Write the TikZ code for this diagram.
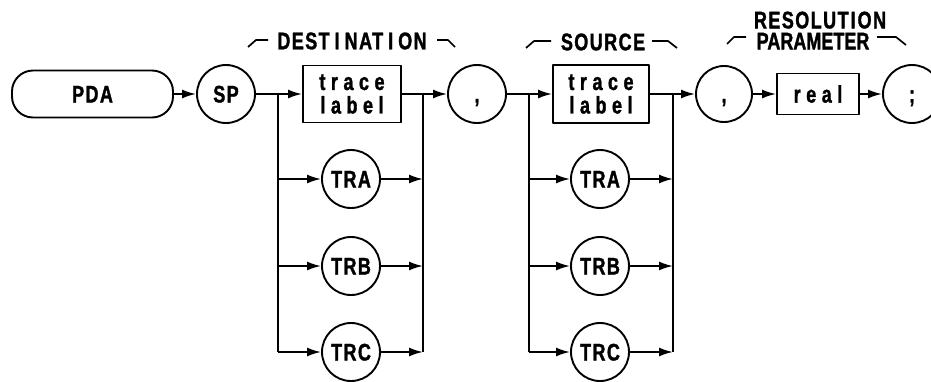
\documentclass[tikz,border=0pt]{standalone}
\usepackage{fontspec}
\setmainfont{Liberation Sans}
\newfontfamily\capf[FakeStretch=0.75,LetterSpace=6,FakeBold=1.4]{Liberation Sans}
\newfontfamily\parf[FakeStretch=0.75,FakeBold=1.4]{Liberation Sans}
\newfontfamily\lowf[FakeStretch=0.75,LetterSpace=23,FakeBold=1.4]{Liberation Sans}
\usetikzlibrary{arrows.meta}
\begin{document}
\begin{tikzpicture}[x=1pt,y=-1pt,line width=1.9pt,line join=round,
  arr/.style={-{Latex[length=14pt,width=9pt]}},
  hook/.style={line width=1.7pt},
  capt/.style={inner sep=0pt,font=\capf\bfseries\fontsize{24}{24}\selectfont},
  circ/.style={circle,draw,minimum size=58pt,inner sep=0pt,
    font=\capf\bfseries\fontsize{24}{24}\selectfont,text height=17pt,text depth=0pt},
  tbox/.style={rectangle,draw,inner sep=0pt,align=center,
    font=\lowf\bfseries\fontsize{24}{23.5}\selectfont},
  pill/.style={rectangle,draw,rounded corners=21pt,minimum width=161pt,minimum height=47pt,
    inner sep=0pt,font=\capf\bfseries\fontsize{24}{24}\selectfont,text height=17pt,text depth=0pt}]
\useasboundingbox (0,0) rectangle (931,381);
\clip (0,0) rectangle (931,381);
% main row
\node[pill] (pda) at (92.5,94) {PDA};
\node[circ] (sp) at (226,94) {SP};
\node[tbox,minimum width=98pt,minimum height=57pt] (dbox) at (352,94) {trace\\label};
\node[circ] (c1) at (477,94) {,};
\node[tbox,minimum width=96pt,minimum height=58pt] (sbox) at (601,94) {trace\\label};
\node[circ,minimum size=56pt] (c2) at (724,94) {,};
\node[tbox,minimum width=82pt,minimum height=41pt] (real) at (818,94) {real};
\node[circ] (semi) at (912,94) {;};
% destination alternatives
\node[circ] (dtra) at (351,179) {TRA};
\node[circ] (dtrb) at (351,266) {TRB};
\node[circ] (dtrc) at (351,352) {TRC};
\node[circ] (stra) at (600,179) {TRA};
\node[circ] (strb) at (600,266) {TRB};
\node[circ] (strc) at (600,352) {TRC};
% branch coordinates
\coordinate (db0) at (278,94);
\coordinate (db1) at (278,179);
\coordinate (db2) at (278,266);
\coordinate (db3) at (278,352);
\coordinate (dm0) at (423,94);
\coordinate (dm1) at (423,179);
\coordinate (dm2) at (423,266);
\coordinate (dm3) at (423,352);
\coordinate (sb0) at (529,94);
\coordinate (sb1) at (529,179);
\coordinate (sb2) at (529,266);
\coordinate (sb3) at (529,352);
\coordinate (sm0) at (673,94);
\coordinate (sm1) at (673,179);
\coordinate (sm2) at (673,266);
\coordinate (sm3) at (673,352);
% main connectors
\draw[arr] (pda) -- (sp);
\draw[arr] (sp) -- (dbox);
\draw[arr] (dbox) -- (c1);
\draw[arr] (c1) -- (sbox);
\draw[arr] (sbox) -- (c2);
\draw[arr] (c2) -- (real);
\draw[arr] (real) -- (semi);
% destination branches
\draw (db0) -- (db3);
\draw (dm3) -- (dm0);
\draw[arr] (db1) -- (dtra);
\draw[arr] (db2) -- (dtrb);
\draw[arr] (db3) -- (dtrc);
\draw[arr] (dtra) -- (dm1);
\draw[arr] (dtrb) -- (dm2);
\draw[arr] (dtrc) -- (dm3);
% source branches
\draw (sb0) -- (sb3);
\draw (sm3) -- (sm0);
\draw[arr] (sb1) -- (stra);
\draw[arr] (sb2) -- (strb);
\draw[arr] (sb3) -- (strc);
\draw[arr] (stra) -- (sm1);
\draw[arr] (strb) -- (sm2);
\draw[arr] (strc) -- (sm3);
% titles
\node[capt] (tdest) at (352,41) {DEST\kern5pt I\kern5pt NAT\kern5pt I\kern5pt ON};
\draw[hook] (248,47) -- (256,40) -- (268,40);
\draw[hook] (437,40) -- (448,40) -- (455,47);
\node[capt] (tsrc) at (603,42) {SOURCE};
\draw[hook] (526,48) -- (534,41) -- (551,41);
\draw[hook] (652,41) -- (668,41) -- (677,48);
\node[capt,align=center,font=\capf\bfseries\fontsize{24}{21}\selectfont] (tres) at (820,30.5)
  {RESOLUT\kern2pt I\kern2pt ON\\{\parf\bfseries PARAMETER}\kern14pt};
\draw[hook] (727,44) -- (734,37) -- (746,37);
\draw[hook] (877,37) -- (896,37) -- (906,45);
\end{tikzpicture}
\end{document}
